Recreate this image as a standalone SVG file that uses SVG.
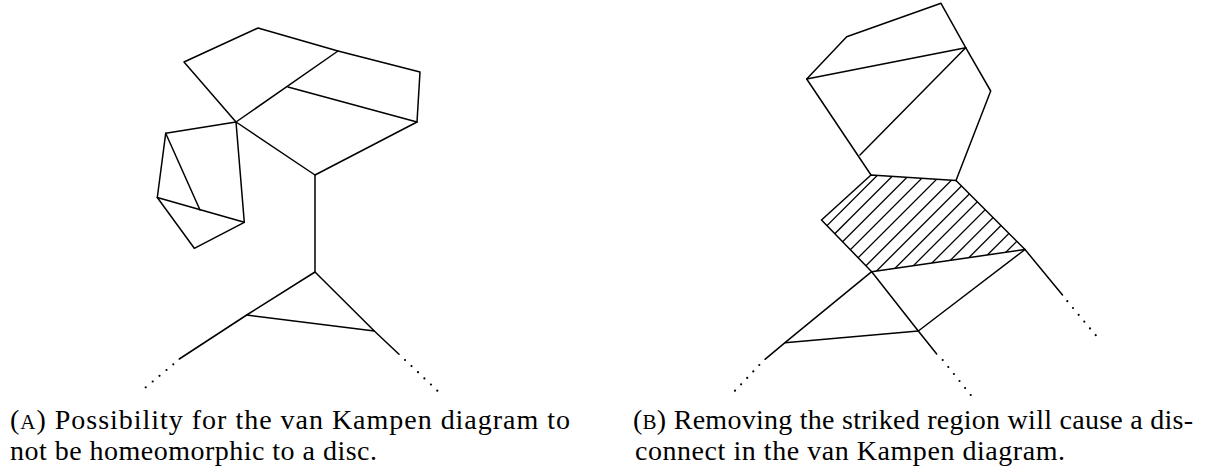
<svg xmlns="http://www.w3.org/2000/svg" width="1208" height="473" viewBox="0 0 1208 473">
<style>
.e{fill:none;stroke:#000;stroke-width:1.5;stroke-linejoin:round;stroke-linecap:round}
.h{stroke:#000;stroke-width:1.3}
.d{fill:#000}
.cap{font-family:"Liberation Serif","Times New Roman",serif;font-size:28px;fill:#000}
</style>
<defs>
<clipPath id="quad"><polygon points="871,175 956,180.5 1025,249.5 871.7,271.7 821.5,220"/></clipPath>
</defs>
<rect width="1208" height="473" fill="#fff"/>
<g id="diagram-a">
<g id="a-edges">
<polyline class="e" points="236,122 184,62 258,28 338,51 420,72 417,122 315,175 236,122"/>
<line class="e" x1="236" y1="122" x2="338" y2="51"/>
<line class="e" x1="288" y1="87" x2="417" y2="122"/>
<polygon class="e" points="165.7,133.3 236,122 244.3,222.3 194.3,248.3 157.3,197.5"/>
<line class="e" x1="165.7" y1="133.3" x2="200" y2="210"/>
<line class="e" x1="157.3" y1="197.5" x2="244.3" y2="222.3"/>
<line class="e" x1="315" y1="175" x2="315" y2="272"/>
<polyline class="e" points="179.3,359 246.7,315 315,272 374.3,331 399,354.3"/>
<line class="e" x1="246.7" y1="315" x2="374.3" y2="331"/>
</g>
<g id="a-dots" class="d">
<circle cx="173.3" cy="364.3" r="1.1"/><circle cx="166.5" cy="370" r="1.1"/><circle cx="159.5" cy="375.8" r="1.1"/><circle cx="152.7" cy="381.5" r="1.1"/><circle cx="145.7" cy="387.3" r="1.1"/>
<circle cx="405" cy="360" r="1.1"/><circle cx="411.5" cy="366.1" r="1.1"/><circle cx="418" cy="372.2" r="1.1"/><circle cx="424.4" cy="378.4" r="1.1"/><circle cx="430.9" cy="384.5" r="1.1"/><circle cx="437.3" cy="390.7" r="1.1"/>
</g>
</g>
<g id="diagram-b">
<g id="b-hatch" clip-path="url(#quad)">
<line class="h" x1="892.7" y1="160" x2="762.7" y2="290"/>
<line class="h" x1="908.5" y1="160" x2="778.5" y2="290"/>
<line class="h" x1="924.3" y1="160" x2="794.3" y2="290"/>
<line class="h" x1="940.1" y1="160" x2="810.1" y2="290"/>
<line class="h" x1="955.9" y1="160" x2="825.9" y2="290"/>
<line class="h" x1="971.7" y1="160" x2="841.7" y2="290"/>
<line class="h" x1="987.5" y1="160" x2="857.5" y2="290"/>
<line class="h" x1="1003.3" y1="160" x2="873.3" y2="290"/>
<line class="h" x1="1019.1" y1="160" x2="889.1" y2="290"/>
<line class="h" x1="1034.9" y1="160" x2="904.9" y2="290"/>
<line class="h" x1="1050.7" y1="160" x2="920.7" y2="290"/>
<line class="h" x1="1066.5" y1="160" x2="936.5" y2="290"/>
<line class="h" x1="1082.3" y1="160" x2="952.3" y2="290"/>
<line class="h" x1="1098.1" y1="160" x2="968.1" y2="290"/>
<line class="h" x1="1113.9" y1="160" x2="983.9" y2="290"/>
</g>
<g id="b-edges">
<polyline class="e" points="871,175 806.7,79 846.7,36.7 941,3.3 965.7,47.7 990.7,91 956,180.5"/>
<line class="e" x1="806.7" y1="79" x2="965.7" y2="47.7"/>
<line class="e" x1="965.7" y1="47.7" x2="860" y2="155"/>
<polygon class="e" points="871,175 956,180.5 1025,249.5 871.7,271.7 821.5,220"/>
<line class="e" x1="1025" y1="249.5" x2="1062.5" y2="295"/>
<polyline class="e" points="765,359.3 785,342.7 871.7,271.7 918.3,331 936.7,354"/>
<line class="e" x1="785" y1="342.7" x2="918.3" y2="331"/>
<line class="e" x1="918.3" y1="331" x2="1025" y2="249.5"/>
</g>
<g id="b-dots" class="d">
<circle cx="759.3" cy="365" r="1.1"/><circle cx="753.3" cy="371.4" r="1.1"/><circle cx="747.2" cy="377.9" r="1.1"/><circle cx="741.1" cy="384.3" r="1.1"/><circle cx="735" cy="390.7" r="1.1"/>
<circle cx="942.7" cy="360" r="1.1"/><circle cx="948.3" cy="367" r="1.1"/><circle cx="953.9" cy="374" r="1.1"/><circle cx="959.5" cy="381" r="1.1"/><circle cx="965.1" cy="388" r="1.1"/><circle cx="970.7" cy="395" r="1.1"/>
<circle cx="1067.3" cy="301.2" r="1.1"/><circle cx="1073" cy="308" r="1.1"/><circle cx="1078.7" cy="314.8" r="1.1"/><circle cx="1084.3" cy="321.6" r="1.1"/><circle cx="1090" cy="328.4" r="1.1"/><circle cx="1095.7" cy="335.2" r="1.1"/>
</g>
</g>
<g id="caption-a" class="cap">
<text x="10" y="429" textLength="560" lengthAdjust="spacing">(<tspan font-size="21">A</tspan>) Possibility for the van Kampen diagram to</text>
<text x="10" y="460" textLength="367" lengthAdjust="spacing">not be homeomorphic to a disc.</text>
</g>
<g id="caption-b" class="cap">
<text x="633" y="429" textLength="560" lengthAdjust="spacing">(<tspan font-size="21">B</tspan>) Removing the striked region will cause a dis-</text>
<text x="635" y="460" textLength="430" lengthAdjust="spacing">connect in the van Kampen diagram.</text>
</g>
</svg>
